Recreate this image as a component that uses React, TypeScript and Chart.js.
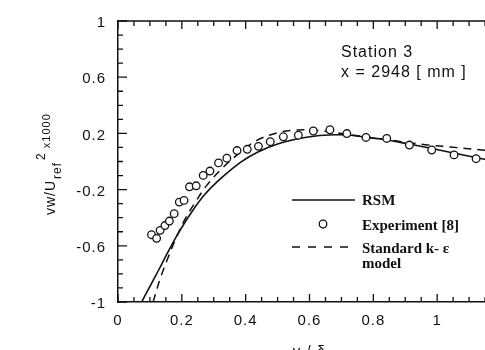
import React, { useEffect, useRef } from "react";
import { Chart, registerables } from "chart.js";

Chart.register(...registerables);

// Experiment [8] (circles)
const expX = [0.105, 0.121, 0.132, 0.147, 0.161, 0.176, 0.192, 0.207, 0.224, 0.245, 0.267, 0.288, 0.315, 0.341, 0.373, 0.405, 0.44, 0.477, 0.518, 0.565, 0.612, 0.664, 0.717, 0.777, 0.842, 0.913, 0.983, 1.053, 1.122];
const expY = [-0.521, -0.547, -0.49, -0.456, -0.424, -0.371, -0.289, -0.277, -0.18, -0.173, -0.099, -0.068, -0.01, 0.024, 0.078, 0.087, 0.108, 0.141, 0.176, 0.187, 0.217, 0.226, 0.199, 0.171, 0.164, 0.117, 0.082, 0.047, 0.02];

// RSM (solid)
const rsmX = [0.074, 0.095, 0.116, 0.137, 0.158, 0.189, 0.231, 0.273, 0.325, 0.388, 0.44, 0.5, 0.56, 0.62, 0.68, 0.72, 0.78, 0.84, 0.91, 0.98, 1.05, 1.12, 1.2];
const rsmY = [-1, -0.91, -0.822, -0.73, -0.638, -0.51, -0.359, -0.232, -0.115, 0.001, 0.07, 0.125, 0.16, 0.182, 0.19, 0.189, 0.172, 0.155, 0.125, 0.094, 0.06, 0.028, -0.005];

// Standard k-epsilon model (dashed)
const keX = [0.11, 0.132, 0.153, 0.179, 0.21, 0.245, 0.278, 0.33, 0.38, 0.435, 0.5, 0.55, 0.6, 0.65, 0.7, 0.8, 0.9, 0.97, 1.04, 1.14, 1.2];
const keY = [-1, -0.835, -0.707, -0.561, -0.41, -0.28, -0.17, -0.04, 0.06, 0.15, 0.205, 0.222, 0.225, 0.215, 0.2, 0.168, 0.138, 0.118, 0.104, 0.082, 0.072];

const yLabelTicks = [1, 0.6, 0.2, -0.2, -0.6, -1];
const xLabelTicks = [0, 0.2, 0.4, 0.6, 0.8, 1, 1.2];

const legendLabels = ["RSM", "Experiment [8]", "Standard k- \u03b5", "model"];
const annotation = ["Station 3", "x = 2948 [ mm ]"];
const xTitle = "y / \u03b4";

const pts = (xs: number[], ys: number[]) => xs.map((x, i) => ({ x, y: ys[i] }));

const SANS = "'Liberation Sans', Arial, sans-serif";
const SERIF = "'Liberation Serif', 'Times New Roman', serif";

const decorPlugin = {
  id: "decor",
  beforeLayout(chart: any) {
    chart.ctx.letterSpacing = "1px";
  },
  beforeDraw(chart: any) {
    const ctx = chart.ctx;
    ctx.save();
    ctx.fillStyle = "#fff";
    ctx.fillRect(0, 0, chart.width, chart.height);
    ctx.restore();
    ctx.letterSpacing = "1px";
  },
  afterDraw(chart: any) {
    const ctx = chart.ctx;
    const xs = chart.scales.x;
    const ys = chart.scales.y;
    const { left, right, top, bottom } = chart.chartArea;
    ctx.save();
    ctx.strokeStyle = "#111";
    ctx.lineWidth = 1.5;
    // top and right frame
    ctx.beginPath();
    ctx.moveTo(left, top);
    ctx.lineTo(right, top);
    ctx.lineTo(right, bottom);
    ctx.stroke();
    // inward ticks
    ctx.lineWidth = 1.3;
    ctx.beginPath();
    for (let i = 0; i <= 20; i++) {
      const v = -1 + i * 0.1;
      const py = ys.getPixelForValue(v);
      const major = yLabelTicks.some((t) => Math.abs(t - v) < 1e-6);
      const len = major ? 9 : 5;
      ctx.moveTo(left, py);
      ctx.lineTo(left + len, py);
    }
    for (let i = 0; i <= 24; i++) {
      const v = i * 0.05;
      const px = xs.getPixelForValue(v);
      const major = xLabelTicks.some((t) => Math.abs(t - v) < 1e-6);
      const len = major ? 8 : 5;
      ctx.moveTo(px, bottom);
      ctx.lineTo(px, bottom - len);
      ctx.moveTo(px, top);
      ctx.lineTo(px, top + len);
    }
    ctx.stroke();

    ctx.fillStyle = "#111";
    ctx.textBaseline = "alphabetic";
    ctx.textAlign = "left";

    // annotation
    ctx.letterSpacing = "1px";
    ctx.font = `16px ${SANS}`;
    ctx.fillText(annotation[0], 341, 57);
    ctx.fillText(annotation[1], 341, 77);

    // legend
    const lx0 = 292;
    const lx1 = 355;
    ctx.lineWidth = 1.5;
    ctx.setLineDash([]);
    ctx.beginPath();
    ctx.moveTo(lx0, 200);
    ctx.lineTo(lx1, 200);
    ctx.stroke();
    ctx.beginPath();
    ctx.lineWidth = 1.3;
    ctx.arc(323, 224, 3.8, 0, Math.PI * 2);
    ctx.fillStyle = "#fff";
    ctx.fill();
    ctx.stroke();
    ctx.setLineDash([8, 8]);
    ctx.lineWidth = 1.5;
    ctx.beginPath();
    ctx.moveTo(lx0, 247);
    ctx.lineTo(lx1, 247);
    ctx.stroke();
    ctx.setLineDash([]);
    ctx.fillStyle = "#111";
    ctx.letterSpacing = "0px";
    ctx.font = `bold 15px ${SERIF}`;
    ctx.fillText(legendLabels[0], 362, 205);
    ctx.fillText(legendLabels[1], 362, 230);
    ctx.fillText(legendLabels[2], 362, 253);
    ctx.fillText(legendLabels[3], 362, 268);

    // x title (cut off by page bottom)
    ctx.letterSpacing = "1px";
    ctx.font = `15px ${SANS}`;
    ctx.textAlign = "center";
    ctx.fillText(xTitle, (left + right) / 2, 356);

    // y title, rotated
    ctx.textAlign = "left";
    ctx.translate(55, 215);
    ctx.rotate(-Math.PI / 2);
    ctx.font = `14px ${SANS}`;
    ctx.fillText("vw/U", 0, 0);
    let pos = ctx.measureText("vw/U").width + 1;
    ctx.font = `12px ${SANS}`;
    ctx.fillText("ref", pos, 6);
    pos += ctx.measureText("ref").width + 2;
    ctx.fillText("2", pos, -10);
    pos += ctx.measureText("2").width + 4;
    ctx.font = `11px ${SANS}`;
    ctx.fillText("x1000", pos, -5);
    ctx.restore();
  },
};

export default function App() {
  const ref = useRef<HTMLCanvasElement | null>(null);
  useEffect(() => {
    if (!ref.current) return;
    const chart = new Chart(ref.current, {
      type: "scatter",
      data: {
        datasets: [
          {
            label: "Experiment [8]",
            data: pts(expX, expY),
            showLine: false,
            pointStyle: "circle",
            pointRadius: 3.8,
            pointBorderWidth: 1.3,
            pointBorderColor: "#111",
            pointBackgroundColor: "#fff",
            order: 0,
          },
          {
            label: "RSM",
            data: pts(rsmX, rsmY),
            showLine: true,
            borderColor: "#111",
            borderWidth: 1.6,
            pointRadius: 0,
            tension: 0.35,
            order: 1,
          },
          {
            label: "Standard k-\u03b5 model",
            data: pts(keX, keY),
            showLine: true,
            borderColor: "#111",
            borderWidth: 1.5,
            borderDash: [8, 6],
            pointRadius: 0,
            tension: 0.35,
            order: 2,
          },
        ],
      },
      options: {
        animation: false,
        responsive: false,
        maintainAspectRatio: false,
        events: [],
        layout: { padding: { left: 0, top: 15, right: 29, bottom: 0 } },
        plugins: { legend: { display: false }, tooltip: { enabled: false } },
        scales: {
          x: {
            type: "linear",
            min: 0,
            max: 1.2,
            grid: { display: false, drawTicks: false },
            border: { display: true, color: "#111", width: 1.5 },
            ticks: {
              stepSize: 0.2,
              color: "#111",
              padding: 10,
              maxRotation: 0,
              autoSkip: false,
              font: { family: SANS, size: 15 },
              callback: (v: any) => String(Number(Number(v).toFixed(1))),
            },
            afterFit: (s: any) => {
              s.height = 58;
            },
          },
          y: {
            type: "linear",
            min: -1,
            max: 1,
            grid: { display: false, drawTicks: false },
            border: { display: true, color: "#111", width: 1.5 },
            ticks: {
              stepSize: 0.4,
              color: "#111",
              padding: 12,
              labelOffset: 2,
              autoSkip: false,
              font: { family: SANS, size: 15 },
              callback: (v: any) => String(Number(Number(v).toFixed(1))),
            },
            afterFit: (s: any) => {
              s.width = 118;
            },
          },
        },
      },
      plugins: [decorPlugin],
    } as any);
    return () => chart.destroy();
  }, []);
  return (
    <div style={{ position: "fixed", left: 0, top: 0, width: 485, height: 350, overflow: "hidden", background: "#fff" }}>
      <canvas ref={ref} width={530} height={360} style={{ display: "block", width: 530, height: 360 }} />
    </div>
  );
}
